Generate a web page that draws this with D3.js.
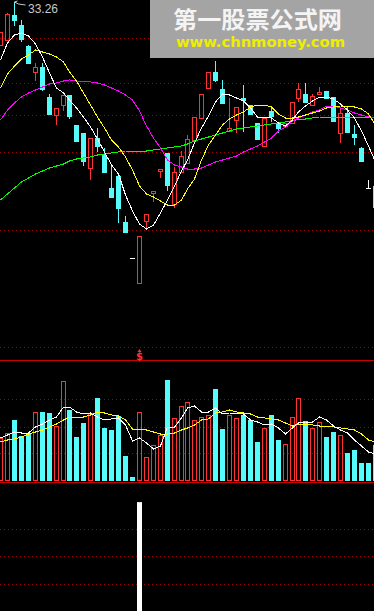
<!DOCTYPE html>
<html>
<head>
<meta charset="utf-8">
<script src="https://cdn.jsdelivr.net/npm/d3@7/dist/d3.min.js"></script>
<style>
  html, body { margin: 0; padding: 0; background: #000; overflow: hidden; }
  svg { display: block; }
</style>
</head>
<body>
<script>
// daily bars, left to right
var days = d3.range(55);

var open  = [31.11,31.36,32.61,32.11,31.06,29.76,30.01,28.51,27.61,28.11,28.61,27.11,26.71,24.96,26.46,25.61,23.96,24.56,22.26,20.46,
             19.21,22.31,23.71,24.81,25.71,23.16,24.76,25.21,26.36,27.46,28.96,29.76,28.91,26.81,27.36,28.46,28.11,27.21,26.06,27.81,
             27.21,27.06,27.21,28.46,28.66,28.11,28.66,28.81,28.51,26.71,27.71,26.66,25.96,23.96,24.06];
var high  = [31.76,32.71,33.26,32.36,31.11,30.21,30.21,28.66,27.96,28.61,28.61,27.11,26.71,26.46,26.96,25.96,25.06,24.56,22.56,20.46,
             21.56,22.66,23.81,24.91,25.71,25.01,25.81,26.61,27.51,28.66,29.76,30.31,29.36,28.46,28.01,29.11,28.11,27.21,27.46,28.01,
             27.21,27.21,28.26,29.21,29.21,28.66,29.01,28.81,28.51,28.01,28.01,27.11,26.01,24.36,24.06];
var low   = [31.06,31.31,32.06,31.26,30.16,29.31,28.81,27.61,27.11,27.81,27.41,26.26,25.06,24.36,25.76,24.71,23.46,22.21,21.71,20.46,
             19.21,21.91,23.26,24.46,23.81,22.96,24.76,25.21,26.36,27.46,28.96,29.26,28.16,26.76,26.71,26.76,27.61,26.36,26.06,27.26,
             26.71,27.06,27.21,28.26,28.21,28.11,28.66,28.41,27.26,26.21,26.71,26.11,25.26,23.96,22.96];
var close = [31.76,32.66,32.31,31.36,30.16,30.01,28.86,27.61,27.96,28.61,27.51,26.26,25.26,26.46,26.01,24.71,23.46,22.91,21.71,20.46,
             21.56,22.66,23.81,24.91,24.06,24.76,25.56,26.41,27.51,28.66,29.76,29.31,28.16,26.96,28.01,28.31,27.61,26.36,27.46,27.51,
             26.91,27.21,28.26,28.91,28.21,28.56,28.76,28.41,27.26,27.71,26.71,26.46,25.26,23.96,22.96];

// price moving averages
var ma5  = [30.36,31.21,31.61,31.71,31.56,31.16,30.51,29.71,28.96,28.71,28.36,27.96,27.51,27.01,26.41,25.76,25.11,24.66,23.61,22.81,
            22.16,21.91,22.11,22.71,23.36,24.06,24.81,25.36,26.21,26.96,27.56,28.26,28.66,28.61,28.46,28.31,27.96,27.51,27.51,27.46,
            27.21,27.06,27.36,27.76,28.06,28.31,28.51,28.51,28.41,28.16,27.86,27.46,26.81,26.06,25.26];
var ma10 = [28.96,29.66,30.06,30.41,30.61,30.86,30.76,30.66,30.51,30.26,29.76,29.31,28.71,28.11,27.51,26.96,26.36,26.01,25.51,24.86,
            24.06,23.66,23.51,23.31,23.11,23.11,23.36,23.91,24.41,25.36,26.11,26.61,27.11,27.41,27.61,27.76,28.01,28.11,28.11,28.01,
            27.66,27.46,27.46,27.51,27.61,27.71,27.81,27.96,28.01,28.06,28.06,28.01,27.91,27.66,27.11];
var ma20 = [27.36,27.86,28.21,28.51,28.71,28.86,29.01,29.16,29.21,29.31,29.36,29.31,29.31,29.26,29.21,29.11,28.96,28.81,28.61,28.36,
            27.81,27.06,26.46,25.96,25.36,25.11,25.01,24.91,24.91,24.96,25.11,25.26,25.36,25.46,25.56,25.76,25.91,26.06,26.26,26.46,
            26.81,27.01,27.31,27.46,27.61,27.76,27.86,28.06,28.06,27.96,27.86,27.71,27.61,27.51,27.46];
var ma60 = [23.36,23.66,23.96,24.26,24.46,24.66,24.81,24.96,25.06,25.16,25.31,25.41,25.46,25.51,25.61,25.66,25.71,25.76,25.81,25.81,
            25.81,25.81,25.86,25.91,25.96,26.01,26.06,26.16,26.31,26.41,26.51,26.61,26.71,26.81,26.91,26.96,27.01,27.06,27.11,27.16,
            27.21,27.26,27.31,27.41,27.41,27.46,27.51,27.51,27.51,27.51,27.51,27.51,27.51,27.51,27.51];

// volume (10k lots) and its averages
var volume = [4.3,4.8,6.1,4.5,4.8,6.9,6.9,6.8,5.5,10.0,7.1,4.4,5.8,6.8,8.3,5.3,5.1,6.5,2.5,0.4,
              6.9,2.4,3.6,4.6,10.1,6.3,7.5,7.9,6.1,6.4,6.6,9.2,5.2,6.6,6.3,6.6,6.1,3.9,5.3,6.6,
              4.1,3.7,6.4,8.3,6.0,5.3,5.9,4.4,4.9,4.6,2.8,3.1,1.8,1.8,3.6];
var volMa5  = [4.3,4.6,4.9,4.8,4.8,5.4,5.7,6.1,6.4,7.4,7.4,6.9,6.7,6.8,6.4,6.1,6.2,6.3,5.6,4.0,
               4.3,3.8,3.2,3.5,5.4,5.4,6.3,7.3,7.5,6.9,6.9,7.3,6.7,6.8,6.8,6.7,6.1,5.9,5.6,5.7,
               5.3,4.7,5.3,5.8,5.9,5.9,6.4,6.1,5.5,5.1,4.8,4.1,3.5,2.9,2.7];
var volMa10 = [3.9,4.1,4.2,4.4,4.7,4.9,5.1,5.4,5.7,6.1,6.4,6.4,6.4,6.6,6.9,6.8,6.6,6.5,6.1,5.2,
               5.2,5.1,4.9,4.7,4.7,4.8,5.1,5.3,5.6,6.1,6.2,6.8,6.9,7.1,6.9,6.8,6.7,6.4,6.3,6.2,
               6.1,5.8,5.5,5.7,5.7,5.6,5.5,5.5,5.4,5.3,5.2,5.1,4.7,4.1,3.9];

// lower indicator: one signal bar
var signal = [];
signal[20] = 99;

var priceGrid = [31.46, 29.21, 27.61, 25.76, 21.86];
var volGrid = [13.4, 8.2, 5.4, 2.8];
var signalGrid = [75, 50, 25];
var highLabel = "33.26";

var width = 374, height = 611;
var RED = "#ff3232", CYAN = "#54fcfc", DOT = "#a00000", LINE = "#c80000";

var svg = d3.select("body").append("svg")
  .attr("width", width)
  .attr("height", height)
  .style("background", "#000");

var x = d3.scaleBand()
  .domain(days)
  .range([-1.94, 377.82])
  .paddingInner(0.28)
  .paddingOuter(0);

var yP = d3.scaleLinear().domain([33.36, 18.36]).range([0, 300]);
var yV = d3.scaleLinear().domain([0, 10]).range([481, 381]);
var yS = d3.scaleLinear().domain([0, 100]).range([611, 501]);

function left(i) { return Math.round(x(i)); }
function mid(i) { return left(i) + 2.5; }
function py(v) { return Math.round(yP(v)); }

// dotted grid lines
function dotted(ys) {
  svg.append("g").selectAll("line").data(ys).enter().append("line")
    .attr("x1", 0).attr("x2", width)
    .attr("y1", function (d) { return Math.round(d) + 0.5; })
    .attr("y2", function (d) { return Math.round(d) + 0.5; })
    .attr("stroke", DOT)
    .attr("stroke-dasharray", "1,3")
    .attr("shape-rendering", "crispEdges");
}
dotted(priceGrid.map(yP));
dotted(volGrid.map(yV));
dotted(signalGrid.map(yS));

// panel separators
svg.append("g").selectAll("line").data([360, 482]).enter().append("line")
  .attr("x1", 0).attr("x2", width)
  .attr("y1", function (d) { return d + 0.5; })
  .attr("y2", function (d) { return d + 0.5; })
  .attr("stroke", LINE)
  .attr("shape-rendering", "crispEdges");

// candles
var candle = svg.append("g").attr("shape-rendering", "crispEdges")
  .selectAll("g").data(days).enter().append("g");

candle.each(function (i) {
  var g = d3.select(this);
  var o = open[i], c = close[i];
  var top = py(Math.max(o, c)), bot = py(Math.min(o, c));
  var hy = py(high[i]), ly = py(low[i]);
  var l = left(i), cx = mid(i);
  if (o === c) {
    g.append("line").attr("x1", cx).attr("x2", cx).attr("y1", hy).attr("y2", ly + 1).attr("stroke", "#fff");
    g.append("line").attr("x1", l).attr("x2", l + 5).attr("y1", top + 0.5).attr("y2", top + 0.5).attr("stroke", "#fff");
  } else if (c > o) {
    if (hy < top) g.append("line").attr("x1", cx).attr("x2", cx).attr("y1", hy).attr("y2", top).attr("stroke", RED);
    if (ly > bot) g.append("line").attr("x1", cx).attr("x2", cx).attr("y1", bot).attr("y2", ly).attr("stroke", RED);
    g.append("rect").attr("x", l + 0.5).attr("y", top + 0.5)
      .attr("width", 4).attr("height", Math.max(bot - top, 1))
      .attr("fill", "none").attr("stroke", RED);
  } else {
    g.append("line").attr("x1", cx).attr("x2", cx).attr("y1", hy).attr("y2", ly).attr("stroke", CYAN);
    g.append("rect").attr("x", l).attr("y", top)
      .attr("width", 5).attr("height", Math.max(bot - top, 1))
      .attr("fill", CYAN);
  }
});

// moving averages
function maLine(values, yScale, color) {
  svg.append("path")
    .datum(values)
    .attr("fill", "none")
    .attr("stroke", color)
    .attr("stroke-width", 1)
    .attr("shape-rendering", "crispEdges")
    .attr("d", d3.line()
      .x(function (d, i) { return mid(i); })
      .y(function (d) { return yScale(d); }));
}
maLine(ma60, yP, "#00ff00");
maLine(ma20, yP, "#ff00ff");
maLine(ma10, yP, "#ffff00");
maLine(ma5, yP, "#ffffff");

// volume bars
svg.append("g").attr("shape-rendering", "crispEdges")
  .selectAll("rect").data(days).enter().append("rect")
  .each(function (i) {
    var up = close[i] > open[i];
    var t = Math.round(yV(volume[i])), b = Math.round(yV(0));
    var r = d3.select(this);
    if (up) {
      r.attr("x", left(i) + 0.5).attr("y", t + 0.5).attr("width", 4).attr("height", b - t - 1)
        .attr("fill", "none").attr("stroke", RED);
    } else {
      r.attr("x", left(i)).attr("y", t).attr("width", 5).attr("height", b - t)
        .attr("fill", CYAN);
    }
  });

maLine(volMa10, yV, "#ffff00");
maLine(volMa5, yV, "#ffffff");

// signal bar + marker
svg.append("g").selectAll("rect").data(days.filter(function (i) { return signal[i] != null; }))
  .enter().append("rect")
  .attr("x", function (i) { return left(i); })
  .attr("y", function (i) { return yS(signal[i]); })
  .attr("width", 5)
  .attr("height", function (i) { return height - yS(signal[i]); })
  .attr("fill", "#fff");

days.filter(function (i) { return signal[i] != null; }).forEach(function (i) {
  var cx = mid(i);
  svg.append("path")
    .attr("d", "M" + (cx - 2) + ",352 L" + cx + ",349 L" + (cx + 2) + ",352 Z")
    .attr("fill", RED);
  svg.append("text")
    .attr("x", cx).attr("y", 360)
    .attr("text-anchor", "middle")
    .attr("font-family", "DejaVu Sans, sans-serif")
    .attr("font-weight", "bold")
    .attr("font-size", 10)
    .attr("fill", RED)
    .text("$");
});

// high-price label
var hi = d3.maxIndex(high);
svg.append("path")
  .attr("d", "M" + (mid(hi)) + "," + yP(high[hi]) + " L" + (mid(hi) + 3) + "," + (yP(high[hi]) - 1) +
             " M" + (mid(hi)) + "," + yP(high[hi]) + " L" + (mid(hi) + 4) + "," + (yP(high[hi]) + 2) +
             " L" + (mid(hi) + 11) + "," + (yP(high[hi]) + 3))
  .attr("fill", "none")
  .attr("stroke", "#c8c8c8");
svg.append("text")
  .attr("x", 28).attr("y", 13)
  .attr("font-family", "Liberation Sans, Arial, sans-serif")
  .attr("font-size", 12)
  .attr("fill", "#c8c8c8")
  .text(highLabel);

// watermark
var wm = svg.append("g");
wm.append("rect").attr("x", 150).attr("y", 0).attr("width", 224).attr("height", 58).attr("fill", "#a4a4a4");
wm.append("text")
  .attr("x", 173).attr("y", 28)
  .attr("font-family", "Noto Sans CJK SC, sans-serif")
  .attr("font-weight", "bold")
  .attr("font-size", 23)
  .attr("textLength", 169)
  .attr("lengthAdjust", "spacingAndGlyphs")
  .attr("fill", "#f4f4f4")
  .text("第一股票公式网");
wm.append("text")
  .attr("x", 176).attr("y", 47)
  .attr("font-family", "DejaVu Sans, sans-serif")
  .attr("font-weight", "bold")
  .attr("font-size", 13.5)
  .attr("textLength", 169)
  .attr("lengthAdjust", "spacingAndGlyphs")
  .attr("fill", "#eeee00")
  .text("www.chnmoney.com");
</script>
</body>
</html>
